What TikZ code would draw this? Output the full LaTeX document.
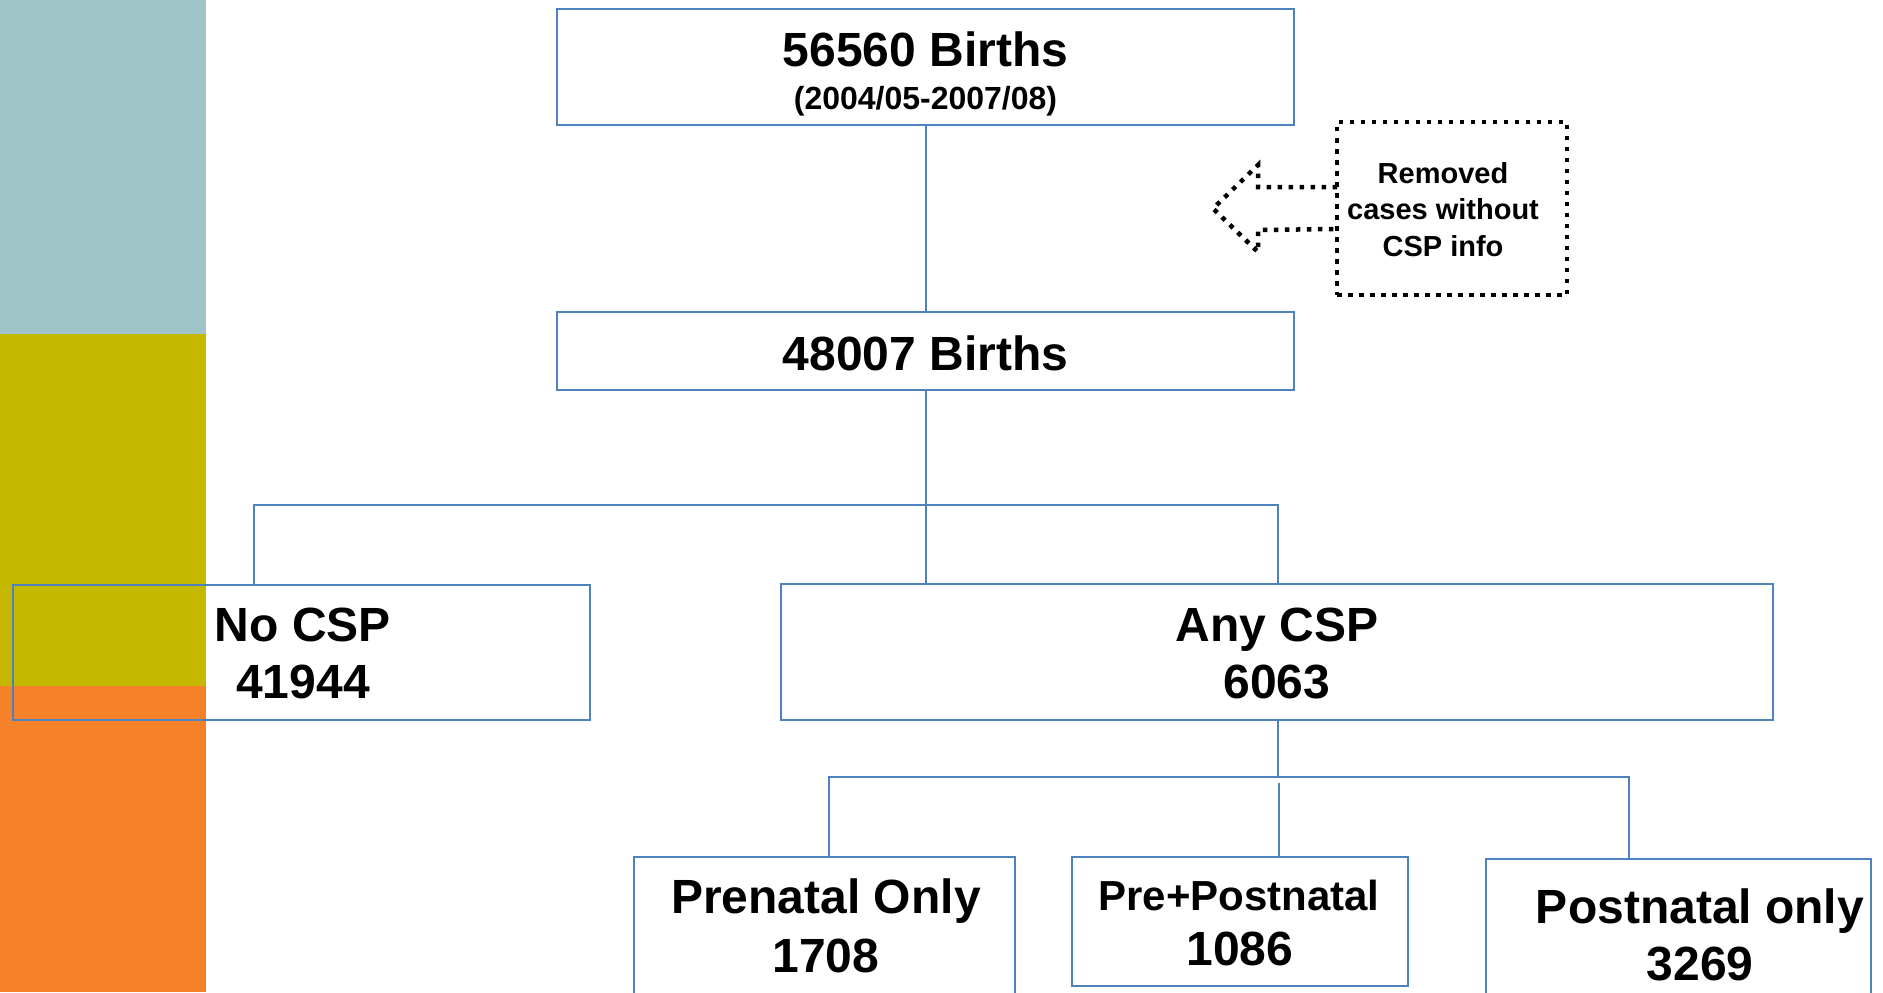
\documentclass[tikz,border=0pt]{standalone}
\usepackage{fontspec}
\setmainfont{Liberation Sans}
\usetikzlibrary{calc}
\definecolor{barteal}{HTML}{9FC5C9}
\definecolor{barolive}{HTML}{C4B800}
\definecolor{barorange}{HTML}{F58229}
\definecolor{linkblue}{HTML}{4F81BD}
\tikzset{
  box/.style={draw=linkblue, line width=2bp, inner sep=0pt, outer sep=0pt, rectangle},
  conn/.style={draw=linkblue, line width=2bp},
  dotline/.style={draw=black, line width=4.5bp, dash pattern=on 4.5bp off 6.5bp},
  big/.style={font=\fontsize{48bp}{58bp}\selectfont\bfseries, anchor=base, inner sep=0pt},
  mid/.style={font=\fontsize{42bp}{50bp}\selectfont\bfseries, anchor=base, inner sep=0pt},
  small/.style={font=\fontsize{32bp}{38bp}\selectfont\bfseries, anchor=base, inner sep=0pt},
  note/.style={font=\fontsize{29bp}{35bp}\selectfont\bfseries, anchor=base, inner sep=0pt}
}
\begin{document}
\begin{tikzpicture}[x=1bp,y=-1bp]
\useasboundingbox (0,0) rectangle (1883,992);
\clip (0,0) rectangle (1883,992);
% colour bar
\fill[barteal] (0,0) rectangle (206,334);
\fill[barolive] (0,334) rectangle (206,686);
\fill[barorange] (0,686) rectangle (206,992);
% boxes
\node[box, minimum width=737bp, minimum height=116bp] (b1) at (925.5,67) {};
\node[box, minimum width=737bp, minimum height=78bp] (b2) at (925.5,351) {};
\node[box, minimum width=577bp, minimum height=135bp] (nocsp) at (301.5,652.5) {};
\node[box, minimum width=992bp, minimum height=136bp] (anycsp) at (1277,652) {};
\node[box, minimum width=381bp, minimum height=150bp] (pre) at (824.5,932) {};
\node[box, minimum width=336bp, minimum height=129bp] (prepost) at (1240,921.5) {};
\node[box, minimum width=385bp, minimum height=160bp] (post) at (1678.5,939) {};
\node[dotline, rectangle, inner sep=0pt, outer sep=0pt, minimum width=230bp, minimum height=173bp] (rm) at (1452,208.5) {};
% texts
\node[big] (t1) at (925.5,66.5) {56560 Births};
\node[small] (t1b) at (925.5,109.5) {(2004/05-2007/08)};
\node[big] (t2) at (925.5,370) {48007 Births};
\node[big] (t3) at (303,641.5) {No CSP};
\node[big] (t3b) at (303,698) {41944};
\node[big] (t4) at (1277,641.5) {Any CSP};
\node[big] (t4b) at (1277,698) {6063};
\node[big] (t5) at (826,913) {Prenatal Only};
\node[big] (t5b) at (826,972) {1708};
\node[mid] (t6) at (1239,910) {Pre+Postnatal};
\node[big] (t6b) at (1240,965) {1086};
\node[big] (t7) at (1700,923) {Postnatal only};
\node[big] (t7b) at (1700,980) {3269};
\node[note] (r1) at (1443,183) {Removed};
\node[note] (r2) at (1443,219) {cases without};
\node[note] (r3) at (1443,256) {CSP info};
% dotted arrow
\draw[dotline] ($(rm.west)+(0,-21.5)$) -- ++(-79,0) -- ++(0,-22) -- ++(-45,43.5) -- ++(45,43.5) -- ++(0,-22) -- ($(rm.west)+(0,20.5)$);
% connectors
\draw[conn] (b1.south) -- (b2.north);
\draw[conn] (b2.south) -- (b2.south |- anycsp.north);
\coordinate (j1) at (254,505);
\coordinate (j1r) at (1278,505);
\draw[conn] (nocsp.north -| j1) -- (j1) -- (j1r) -- (anycsp.north -| j1r);
\coordinate (j2) at (829,777);
\coordinate (j2r) at (1629,777);
\draw[conn] (anycsp.south -| j1r) -- (j1r |- j2);
\draw[conn] (pre.north -| j2) -- (j2) -- (j2r) -- (post.north -| j2r);
\draw[conn] (1279,783) -- (prepost.north -| 1279,0);
\end{tikzpicture}
\end{document}
